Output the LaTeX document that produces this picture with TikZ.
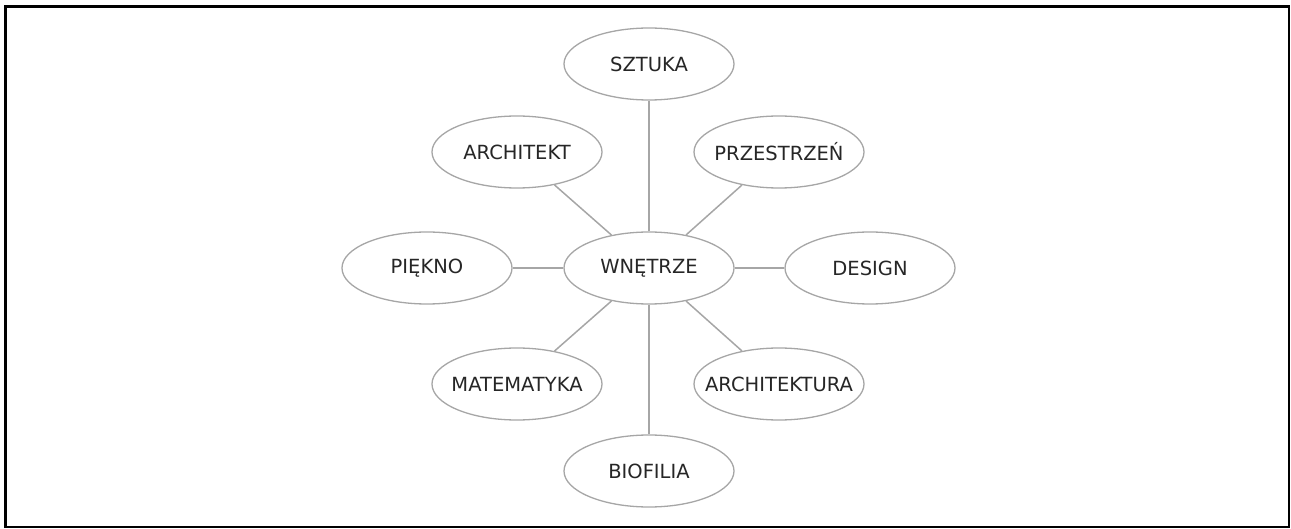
\documentclass[tikz,border=0pt]{standalone}
\usepackage{fontspec}
\setmainfont{DejaVu Sans}
\usepackage{xcolor}
\usepackage{tikz}
\usetikzlibrary{shapes.geometric}
\definecolor{linia}{HTML}{A6A6A6}
\definecolor{tekst}{HTML}{262626}

\begin{document}
\begin{tikzpicture}[x=1pt,y=-1pt,
        pole/.style={ellipse, draw=linia, line width=1.3pt, fill=white,
            minimum width=170pt, minimum height=72pt, inner sep=0pt,
            text=tekst, font=\fontsize{19.5}{22}\selectfont,
            execute at begin node=\hbox to 0pt\bgroup\hss,
            execute at end node=\hss\egroup},
        lacznik/.style={draw=linia, line width=1.5pt}]
            \useasboundingbox (0,0) rectangle (1291,529);
            \draw [line width=2.6pt] (5.5,6.5) rectangle (1289,527);
            \node [pole] (wnetrze) at (649,268) {WNĘTRZE};
            \node [pole] (sztuka) at (649,64) {SZTUKA};
            \node [pole] (architekt) at (517,152) {ARCHITEKT};
            \node [pole] (przestrzen) at (779,152) {PRZESTRZEŃ};
            \node [pole] (piekno) at (427,268) {PIĘKNO};
            \node [pole] (design) at (870,268) {DESIGN};
            \node [pole] (matematyka) at (517,384) {MATEMATYKA};
            \node [pole] (architektura) at (779,384) {ARCHITEKTURA};
            \node [pole] (biofilia) at (649,471) {BIOFILIA};
            \draw [lacznik] (wnetrze)-- (sztuka);
            \draw [lacznik] (wnetrze)-- (architekt);
            \draw [lacznik] (wnetrze)-- (przestrzen);
            \draw [lacznik] (wnetrze)-- (piekno);
            \draw [lacznik] (wnetrze)-- (design);
            \draw [lacznik] (wnetrze)-- (matematyka);
            \draw [lacznik] (wnetrze)-- (architektura);
            \draw [lacznik] (wnetrze)-- (biofilia);
        \end{tikzpicture}
\end{document}
